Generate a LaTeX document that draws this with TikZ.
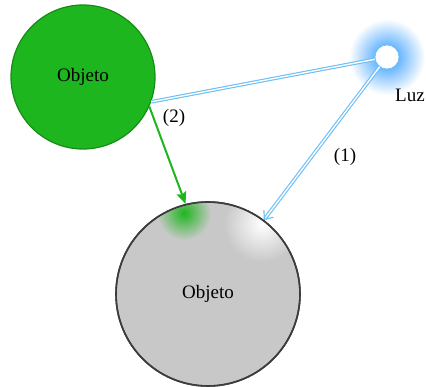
\documentclass[tikz,border=0pt]{standalone}
\usepackage{fontspec}
\setmainfont{Liberation Serif}
\usetikzlibrary{arrows.meta}
\definecolor{objgreen}{RGB}{30,182,30}
\definecolor{objgreendark}{RGB}{22,140,22}
\definecolor{objgray}{RGB}{200,200,200}
\definecolor{objgraydark}{RGB}{60,60,60}
\definecolor{rayblue}{RGB}{105,190,245}
\definecolor{glowblue}{RGB}{40,150,255}

\begin{document}
\begin{tikzpicture}[x=1pt, y=-1pt,
    lbl/.style={font=\fontsize{19}{22}\selectfont},
    ray/.style={draw=rayblue, line width=1.1pt, double=white, double distance=1.4pt},
    bounce/.style={draw=objgreen, line width=2pt},
  ]
  \useasboundingbox (0,0) rectangle (426,387);
  % glow of the light
  \shade[inner color=glowblue, outer color=white] (387,57) circle (38);
  % objects and light
  \node[circle, draw=objgreendark, line width=1.2pt, fill=objgreen, minimum size=144pt, inner sep=0pt, lbl] (obj1) at (83,77) {Objeto};
  \node[circle, draw=objgraydark, line width=1.6pt, fill=objgray, minimum size=184pt, inner sep=0pt] (obj2) at (208,294) {};
  \node[circle, draw=rayblue, line width=0.6pt, fill=white, minimum size=24pt, inner sep=0pt] (luz) at (387,57) {};
  % spots on the gray object
  \begin{scope}
    \clip (208,294) circle (91);
    \shade[inner color=objgreen, outer color=objgray] (184,213) circle (27);
    \shade[inner color=white, outer color=objgray] (262,224) circle (38);
  \end{scope}
  \draw[objgraydark, line width=1.6pt] (208,294) circle (92);
  \node[lbl] (txt2) at (208,294) {Objeto};
  % rays
  \draw[ray] (luz) -- (obj1.-20);
  \draw[ray, -{Straight Barb[length=7pt, width=12pt]}] (luz) -- (obj2);
  \draw[bounce, -{Stealth[length=12pt, width=10pt, inset=2pt]}] (obj1.-24) -- (obj2.104);
  % labels
  \node[lbl] (luzlbl) at (410,95) {Luz};
  \node[lbl] (l1) at (345,157) {(1)};
  \node[lbl] (l2) at (174,118) {(2)};
\end{tikzpicture}
\end{document}
